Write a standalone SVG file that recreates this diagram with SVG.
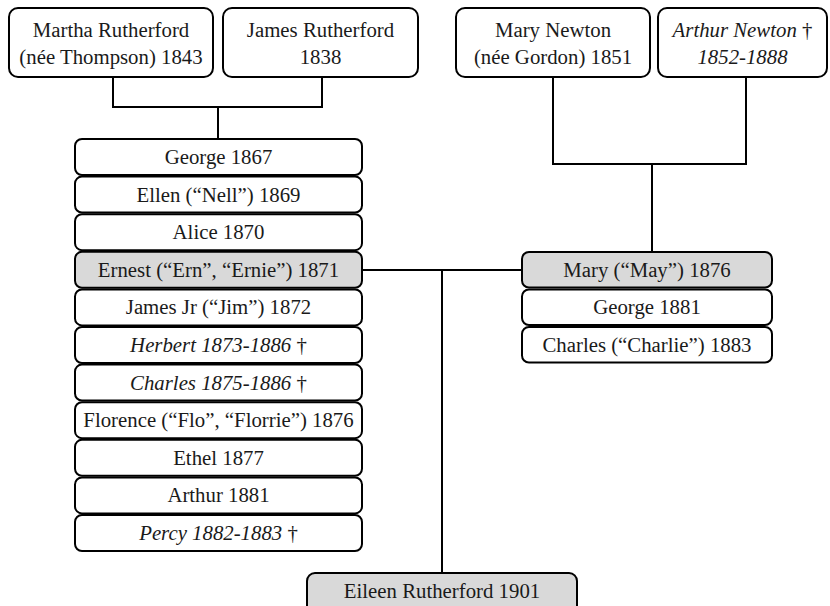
<svg xmlns="http://www.w3.org/2000/svg" width="830" height="606" viewBox="0 0 830 606">
<style>
  .box { fill: #ffffff; stroke: #000000; stroke-width: 2; }
  .hl { fill: #d9d9d9; stroke: #000000; stroke-width: 2; }
  .t { font-family: 'Liberation Serif', 'Times New Roman', Times, 'DejaVu Serif', serif; font-size: 20.8px; fill: #1a1a1a; text-anchor: middle; }
  .i { font-style: italic; }
  .n { font-style: normal; }
  .c { fill: none; stroke: #000000; stroke-width: 2; }
</style>
<rect width="830" height="606" fill="#ffffff"/>
<g id="connectors">
  <path class="c" d="M113,77 V107 H322 V77"/>
  <path class="c" d="M218,107 V139"/>
  <path class="c" d="M553,77 V164 H746 V77"/>
  <path class="c" d="M652,164 V252"/>
  <path class="c" d="M362,270 H522"/>
  <path class="c" d="M442,270 V573"/>
</g>
<g id="martha">
  <rect class="box" x="9" y="8" width="204" height="69" rx="9"/>
  <text class="t" x="111" y="37" font-family="Liberation Serif, serif">Martha Rutherford</text>
  <text class="t" x="111" y="64" font-family="Liberation Serif, serif">(née Thompson) 1843</text>
</g>
<g id="james">
  <rect class="box" x="223" y="8" width="195" height="69" rx="9"/>
  <text class="t" x="320.5" y="37">James Rutherford</text>
  <text class="t" x="320.5" y="64">1838</text>
</g>
<g id="mary-newton">
  <rect class="box" x="456" y="8" width="194" height="69" rx="9"/>
  <text class="t" x="553" y="37">Mary Newton</text>
  <text class="t" x="553" y="64">(née Gordon) 1851</text>
</g>
<g id="arthur-newton">
  <rect class="box" x="658" y="8" width="169" height="69" rx="9"/>
  <text class="t i" x="742.5" y="37">Arthur Newton <tspan class="n">†</tspan></text>
  <text class="t i" x="742.5" y="64">1852-1888</text>
</g>
<g id="george-1867">
  <rect class="box" x="75" y="139" width="287" height="36" rx="7"/>
  <text class="t" x="218.5" y="164">George 1867</text>
</g>
<g id="ellen">
  <rect class="box" x="75" y="176.6" width="287" height="36" rx="7"/>
  <text class="t" x="218.5" y="201.6">Ellen (“Nell”) 1869</text>
</g>
<g id="alice">
  <rect class="box" x="75" y="214.2" width="287" height="36" rx="7"/>
  <text class="t" x="218.5" y="239.2">Alice 1870</text>
</g>
<g id="ernest">
  <rect class="hl" x="75" y="251.8" width="287" height="36" rx="7"/>
  <text class="t" x="218.5" y="276.8">Ernest (“Ern”, “Ernie”) 1871</text>
</g>
<g id="james-jr">
  <rect class="box" x="75" y="289.4" width="287" height="36" rx="7"/>
  <text class="t" x="218.5" y="314.4">James Jr (“Jim”) 1872</text>
</g>
<g id="herbert">
  <rect class="box" x="75" y="327" width="287" height="36" rx="7"/>
  <text class="t i" x="218.5" y="352">Herbert 1873-1886 <tspan class="n">†</tspan></text>
</g>
<g id="charles-1875">
  <rect class="box" x="75" y="364.6" width="287" height="36" rx="7"/>
  <text class="t i" x="218.5" y="389.6">Charles 1875-1886 <tspan class="n">†</tspan></text>
</g>
<g id="florence">
  <rect class="box" x="75" y="402.2" width="287" height="36" rx="7"/>
  <text class="t" x="218.5" y="427.2">Florence (“Flo”, “Florrie”) 1876</text>
</g>
<g id="ethel">
  <rect class="box" x="75" y="439.8" width="287" height="36" rx="7"/>
  <text class="t" x="218.5" y="464.8">Ethel 1877</text>
</g>
<g id="arthur-1881">
  <rect class="box" x="75" y="477.4" width="287" height="36" rx="7"/>
  <text class="t" x="218.5" y="502.4">Arthur 1881</text>
</g>
<g id="percy">
  <rect class="box" x="75" y="515" width="287" height="36" rx="7"/>
  <text class="t i" x="218.5" y="540">Percy 1882-1883 <tspan class="n">†</tspan></text>
</g>
<g id="mary-may">
  <rect class="hl" x="522" y="252" width="250" height="35.5" rx="7"/>
  <text class="t" x="647" y="276.5">Mary (“May”) 1876</text>
</g>
<g id="george-1881">
  <rect class="box" x="522" y="289.5" width="250" height="35.5" rx="7"/>
  <text class="t" x="647" y="314">George 1881</text>
</g>
<g id="charles-1883">
  <rect class="box" x="522" y="327" width="250" height="35.5" rx="7"/>
  <text class="t" x="647" y="351.5">Charles (“Charlie”) 1883</text>
</g>
<g id="eileen">
  <rect class="hl" x="307" y="573" width="270" height="50" rx="8"/>
  <text class="t" x="442" y="598">Eileen Rutherford 1901</text>
</g>
</svg>
